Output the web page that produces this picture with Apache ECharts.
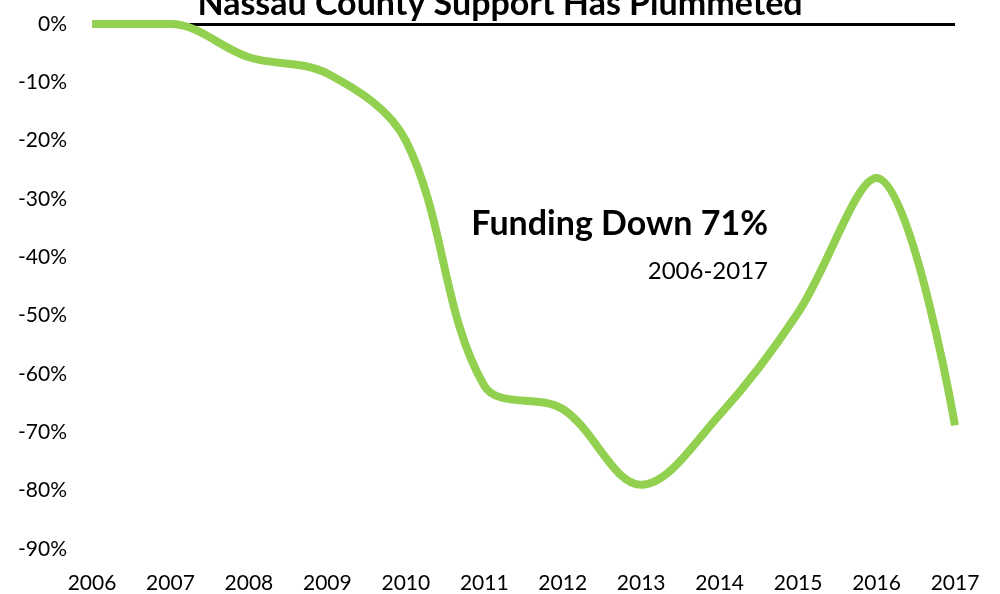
<!DOCTYPE html>
<html>
<head>
<meta charset="utf-8">
<script src="https://cdn.jsdelivr.net/npm/echarts@6/dist/echarts.min.js"></script>
<style>
  html, body { margin: 0; padding: 0; background: #fff; }
  #main { width: 1000px; height: 594px; }
</style>
</head>
<body>
<div id="main"></div>
<script>
// years and percent change vs 2006
var years = ['2006', '2007', '2008', '2009', '2010', '2011', '2012', '2013', '2014', '2015', '2016', '2017'];
var change = [0, 0, -5.7, -8.5, -20, -62, -66, -79, -67, -49.5, -26.4, -68.8];

var myChart = echarts.init(document.getElementById('main'));

var font = 'Lato, "Open Sans", sans-serif';

var option = {
  animation: false,
  title: {
    text: 'Nassau County Support Has Plummeted',
    left: 'center',
    top: -18,
    textStyle: { fontFamily: font, fontSize: 34, fontWeight: 'bold', color: '#000' }
  },
  grid: { left: 92, right: 45, top: 24, bottom: 45 },
  xAxis: {
    type: 'category',
    data: years,
    boundaryGap: false,
    axisLine: { show: false, onZero: false },
    axisTick: { show: false },
    axisLabel: { fontFamily: font, fontSize: 21, color: '#000', margin: 24 }
  },
  yAxis: {
    type: 'value',
    min: -90,
    max: 0,
    interval: 10,
    axisLine: { show: false },
    axisTick: { show: false },
    splitLine: { show: false },
    axisLabel: { formatter: '{value}%', fontFamily: font, fontSize: 21, color: '#000', margin: 25 }
  },
  graphic: [
    {
      type: 'text', right: 232, top: 207,
      style: { text: 'Funding Down 71%', font: 'bold 34px ' + font, fill: '#000' }
    },
    {
      type: 'text', right: 232, top: 259,
      style: { text: '2006-2017', font: '24px ' + font, fill: '#000' }
    }
  ],
  series: [{
    type: 'line',
    data: change,
    smooth: 0.35,
    symbol: 'none',
    lineStyle: { color: '#92D050', width: 8 },
    z: 3,
    markLine: {
      silent: true,
      symbol: 'none',
      label: { show: false },
      lineStyle: { color: '#000', width: 3, type: 'solid' },
      data: [{ yAxis: 0 }],
      z: 2
    }
  }]
};

myChart.setOption(option);
</script>
</body>
</html>
